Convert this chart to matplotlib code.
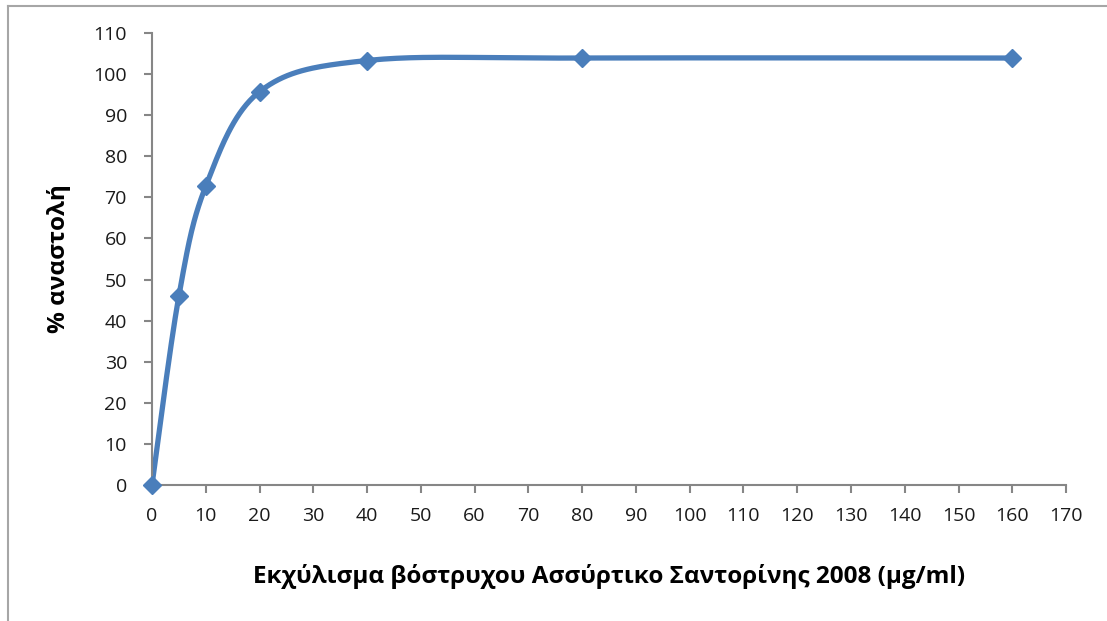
import numpy as np
import matplotlib
matplotlib.use('Agg')
import matplotlib.pyplot as plt
from matplotlib.lines import Line2D

# Data
conc = [0, 5, 10, 20, 40, 80, 160]
inhibition = [0, 46, 72.7, 95.7, 103.3, 103.9, 103.9]

x_ticks = list(range(0, 171, 10))
y_ticks = list(range(0, 111, 10))

plt.rcParams['font.family'] = ['Open Sans', 'DejaVu Sans']


# Excel style smoothed line (bezier) through the points
def smooth_line(xs, ys, n=40):
    pts = np.column_stack([xs, ys]).astype(float)
    out = []
    for i in range(len(pts) - 1):
        p0 = pts[i - 1] if i > 0 else pts[i]
        p1 = pts[i]
        p2 = pts[i + 1]
        p3 = pts[i + 2] if i + 2 < len(pts) else pts[i + 1]
        c1 = p1 + (p2 - p0) / 6.0
        c2 = p2 - (p3 - p1) / 6.0
        t = np.linspace(0, 1, n)[:, None]
        seg = ((1 - t) ** 3) * p1 + 3 * ((1 - t) ** 2) * t * c1 + 3 * (1 - t) * t ** 2 * c2 + t ** 3 * p2
        out.append(seg if i == 0 else seg[1:])
    out = np.vstack(out)
    return out[:, 0], out[:, 1]


fig = plt.figure(figsize=(11.07, 6.21), dpi=100)
ax = fig.add_axes([0.1373, 0.219, 0.963 - 0.1373, 0.9469 - 0.219])

blue = '#4A7EBB'
sx, sy = smooth_line(conc, inhibition)
ax.plot(sx, sy, color=blue, linewidth=3.8, solid_capstyle='round', zorder=2)
ax.plot(conc, inhibition, linestyle='none', marker='D', markersize=9,
        color=blue, markeredgecolor=blue, zorder=3, clip_on=False)

ax.set_xlim(0, 170)
ax.set_ylim(0, 110)
ax.set_xticks(x_ticks)
ax.set_yticks(y_ticks)

ax.spines['top'].set_visible(False)
ax.spines['right'].set_visible(False)
for s in ['left', 'bottom']:
    ax.spines[s].set_color('#868686')
    ax.spines[s].set_linewidth(1.5)

ax.tick_params(axis='both', direction='out', length=6, width=1.5, color='#868686',
               labelsize=14, labelcolor='#1a1a1a')
ax.tick_params(axis='x', pad=10)
ax.tick_params(axis='y', pad=12)

ax.set_xlabel('Εκχύλισμα βόστρυχου Ασσύρτικο Σαντορίνης 2008 (μg/ml)',
              fontsize=17.5, fontweight='bold', labelpad=28)
ax.set_ylabel('% αναστολή', fontsize=17.5, fontweight='bold', labelpad=16)

# chart area border (only top and left edges fall inside the picture)
fig.add_artist(Line2D([8 / 1107, 8 / 1107], [0, 1 - 6 / 621], transform=fig.transFigure,
                      color='#a6a6a6', linewidth=1.5))
fig.add_artist(Line2D([8 / 1107, 1], [1 - 6 / 621, 1 - 6 / 621], transform=fig.transFigure,
                      color='#a6a6a6', linewidth=1.5))

fig.savefig('out.png', dpi=100)
